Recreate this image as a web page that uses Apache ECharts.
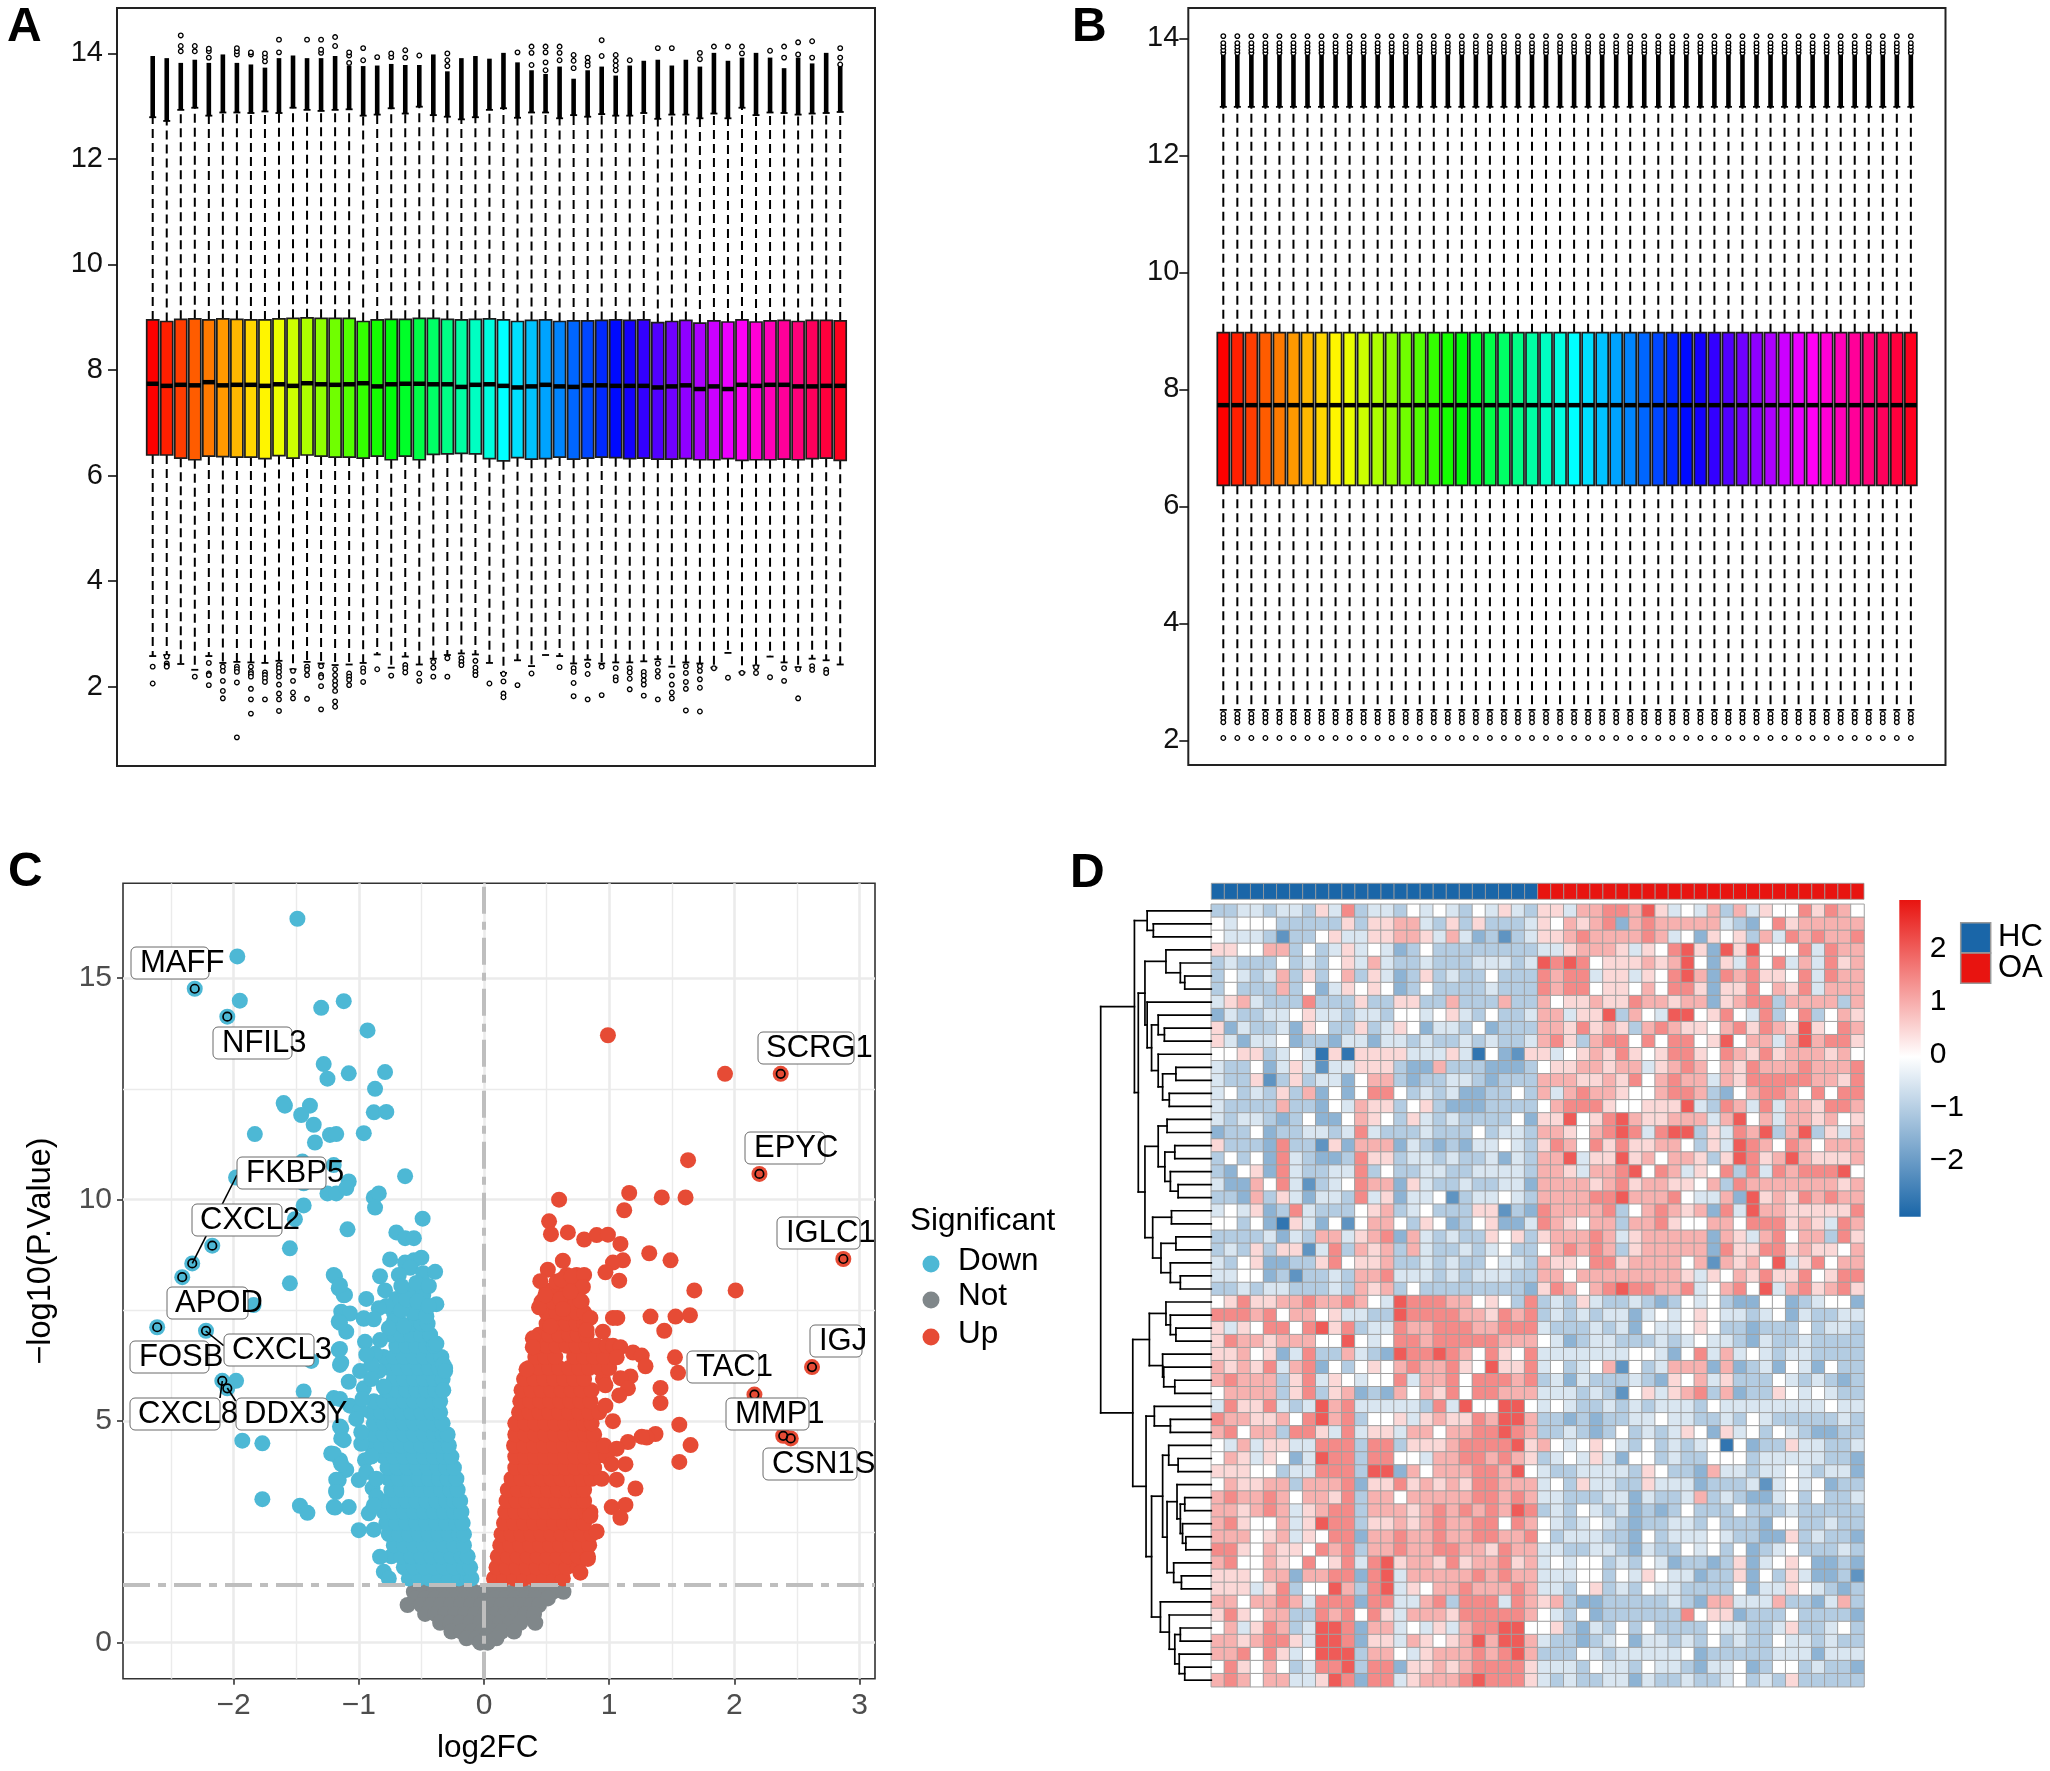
<!DOCTYPE html>
<html>
<head>
<meta charset="utf-8">
<title>Expression QC, volcano and heatmap</title>
<script src="https://cdn.jsdelivr.net/npm/echarts@6/dist/echarts.min.js"></script>
<style>
html, body { margin: 0; padding: 0; background: #fff; }
#chart { width: 2050px; height: 1771px; }
</style>
</head>
<body>
<div id="chart"></div>
<script>
// Panel A, one entry per sample
var boxAQ1 = [6.39,6.39,6.33,6.30,6.37,6.36,6.35,6.35,6.32,6.38,6.33,6.39,6.37,6.35,6.35,6.33,6.37,6.30,6.37,6.30,6.40,6.41,6.42,6.41,6.32,
    6.28,6.34,6.31,6.32,6.35,6.31,6.33,6.35,6.34,6.32,6.33,6.31,6.31,6.32,6.30,6.30,6.32,6.29,6.30,6.30,6.31,6.30,6.32,6.33,6.29];
var boxAMed = [7.74,7.70,7.72,7.71,7.77,7.71,7.72,7.72,7.70,7.73,7.70,7.75,7.73,7.72,7.73,7.75,7.69,7.73,7.74,7.74,7.73,7.73,7.68,7.72,7.73,
    7.70,7.67,7.69,7.72,7.69,7.68,7.71,7.71,7.70,7.70,7.70,7.67,7.69,7.71,7.64,7.69,7.64,7.72,7.70,7.72,7.72,7.69,7.69,7.70,7.70];
var boxAQ3 = [8.95,8.92,8.96,8.97,8.95,8.97,8.96,8.95,8.95,8.97,8.98,8.99,8.98,8.98,8.98,8.92,8.95,8.96,8.96,8.98,8.98,8.96,8.95,8.96,8.97,
    8.95,8.92,8.94,8.95,8.92,8.93,8.93,8.94,8.95,8.94,8.95,8.90,8.92,8.94,8.89,8.93,8.91,8.95,8.91,8.93,8.94,8.92,8.94,8.94,8.93];
var boxALow = [2.58,2.60,2.43,2.32,2.58,2.45,2.47,2.46,2.45,2.49,2.33,2.47,2.44,2.41,2.42,2.45,2.61,2.36,2.57,2.42,2.53,2.60,2.63,2.61,2.45,
    2.26,2.50,2.39,2.60,2.58,2.44,2.51,2.44,2.46,2.46,2.48,2.52,2.38,2.46,2.44,2.36,2.64,2.27,2.40,2.57,2.46,2.37,2.53,2.50,2.42];
var boxAHigh = [12.79,12.72,12.93,12.97,12.82,12.88,12.88,12.87,12.90,12.87,12.97,12.93,12.91,12.93,12.94,12.82,12.84,12.96,12.86,12.99,12.83,12.80,12.75,12.79,12.93,
    12.96,12.78,12.88,12.88,12.77,12.83,12.80,12.85,12.82,12.82,12.87,12.76,12.84,12.84,12.77,12.86,12.77,12.97,12.83,12.88,12.87,12.84,12.86,12.87,12.89];
// top of the solid run of overlapping outliers above each whisker
var boxADenseTop = [13.95,13.91,13.82,13.88,13.82,13.98,13.82,13.79,13.73,13.91,13.96,13.91,13.91,13.95,13.77,13.76,13.77,13.80,13.78,13.78,13.98,13.66,13.91,13.95,13.90,
    14.01,13.83,13.68,13.61,13.75,13.52,13.68,13.75,13.58,13.77,13.86,13.88,13.77,13.88,13.75,14.01,13.86,13.92,14.01,13.92,13.72,13.92,13.81,14.01,13.81];
var boxATopOut = [[],[],[14.04,14.14,14.34],[14.04,14.14],[13.92,14.04,14.09],[],[13.98,14.04,14.10],[13.98,14.02],[13.85,13.93,14.00],[14.02,14.26],
    [],[14.26],[14.01,14.07,14.26],[14.14,14.31],[13.82,13.96,14.02],[13.87,14.10],[13.93],[13.93,14.00],[13.92,14.06],[13.96],
    [],[14.00,13.87,13.76],[],[],[],
    [],[14.02],[14.13,14.01,13.78],[14.13,14.02,13.83,13.68],[14.13,14.01,13.87],[13.97,13.86,13.72],[13.92,13.83,13.77],[14.25,13.95],[13.97,13.86,13.77,13.68],[13.87],
    [],[14.10],[14.10],[],[14.01,13.89],[14.13],[14.13],[14.13,14.00],[],[14.05],[14.13,13.92],[14.21,13.98],[14.23,13.92],[],[14.10,13.92,13.79]];
var boxALowOut = [[2.38,2.06],[2.57,2.44,2.40,2.38],[],[2.19],[2.45,2.25,2.22,2.03],[2.38,2.30,2.11,1.92,1.78],[2.38,2.33,2.28,2.08,1.04],[2.38,2.28,2.24,2.19,1.96,1.76,1.49],[2.27,2.22,2.16,2.09,1.76],[2.41,2.35,2.28,2.19,2.04,1.87,1.76,1.54],
    [2.30,2.11,1.89,1.78],[2.38,2.32,2.22,1.77],[2.39,2.22,2.18,2.01,1.57],[2.33,2.22,2.11,2.03,1.92,1.72,1.62],[2.25,2.19,2.13,2.03],[2.35,2.28,2.09],[2.33],[2.21],[2.41,2.35,2.27],[2.25,2.11],
    [2.47,2.36,2.19],[2.54,2.19],[2.54,2.47,2.41],[2.49,2.36,2.28,2.22],[2.06],
    [2.24,2.10,1.87,1.80],[2.03],[2.25],[],[2.37],[2.35,2.28,2.07,1.82],[2.41,2.24,1.76],[2.38,1.84],[2.35,2.18,2.12],[2.35,2.27,2.15,1.95],
    [2.28,2.21,2.12,2.04,1.83],[2.44,2.30,2.19,1.76],[2.21,2.04,1.89,1.78],[2.39,2.26,2.09,1.96,1.55],[2.39,2.30,2.14,1.98,1.53],[2.35],[2.17],[2.26],[2.37,2.26],[2.18],[2.35,2.11],[2.33,1.78],[2.39,2.32],[2.32,2.26],[]];

// Panel B is quantile normalised, every sample has the same summary
var boxBSummary = { low: 2.52, q1: 6.36, med: 7.73, q3: 8.97, high: 12.83, denseTop: 13.72 };
var boxBTopOut = [13.75, 13.80, 13.86, 13.92, 14.04];
var boxBLowOut = [2.45, 2.38, 2.31, 2.04];

var axisTicksAB = [2, 4, 6, 8, 10, 12, 14];

// Panel C, hand read from the volcano. Dense rows: [y, x, x, ...]
var downDense = [
    [1.45,-.6,-.52,-.44,-.36,-.28,-.2,-.13,-.1],
    [1.7,-.64,-.56,-.48,-.4,-.32,-.24,-.16,-.11],
    [1.95,-.74,-.66,-.58,-.5,-.42,-.34,-.26,-.18,-.13],
    [2.2,-.72,-.64,-.56,-.48,-.4,-.32,-.24,-.16],
    [2.45,-.76,-.68,-.6,-.52,-.44,-.36,-.28,-.2,-.16],
    [2.7,-.78,-.7,-.62,-.54,-.46,-.38,-.3,-.22,-.17],
    [2.95,-.8,-.72,-.64,-.56,-.48,-.4,-.32,-.24,-.18],
    [3.2,-.78,-.7,-.62,-.54,-.46,-.38,-.3,-.24,-.19],
    [3.45,-.74,-.66,-.58,-.5,-.42,-.34,-.27,-.21],
    [3.7,-.76,-.68,-.6,-.52,-.44,-.36,-.29,-.22],
    [3.95,-.77,-.69,-.61,-.53,-.45,-.37,-.3,-.24],
    [4.2,-.8,-.72,-.64,-.56,-.48,-.4,-.32,-.26],
    [4.45,-.9,-.82,-.74,-.66,-.58,-.5,-.42,-.34,-.28],
    [4.7,-.88,-.8,-.72,-.64,-.56,-.48,-.4,-.33,-.29],
    [4.95,-.88,-.8,-.72,-.64,-.56,-.48,-.4,-.33],
    [5.2,-.9,-.82,-.74,-.66,-.58,-.5,-.42,-.35],
    [5.45,-.88,-.8,-.72,-.64,-.56,-.48,-.4,-.35],
    [5.7,-.78,-.7,-.62,-.54,-.46,-.39,-.33],
    [5.95,-.72,-.64,-.56,-.48,-.4,-.33],
    [6.2,-.76,-.68,-.6,-.52,-.44,-.36,-.31],
    [6.45,-.8,-.72,-.64,-.56,-.48,-.4,-.34],
    [6.7,-.7,-.62,-.54,-.46,-.4],
    [6.95,-.74,-.66,-.58,-.5,-.43],
    [7.2,-.66,-.58,-.5,-.45],
    [7.45,-.72,-.56,-.47]
];
var downPoints = [[-2.31,14.76],[-2.05,14.13],[-2.17,8.96],[-2.33,8.56],[-2.41,8.25],[-2.61,7.12],[-2.22,7.04],[-2.09,5.91],[-2.05,5.74],
    [-1.49,16.34],[-1.97,15.49],[-1.95,14.49],[-1.30,14.33],[-1.12,14.48],[-.93,13.82],[-1.28,13.06],[-1.25,12.73],[-1.08,12.85],[-.79,12.88],[-.87,12.5],
    [-1.60,12.18],[-1.59,12.12],[-1.39,12.12],[-1.46,11.91],[-1.36,11.69],[-.88,11.97],[-.78,11.98],[-1.23,11.46],[-1.18,11.48],[-.96,11.5],[-1.83,11.48],[-1.35,11.29],
    [-1.45,10.86],[-1.2,10.78],[-1.98,10.5],[-1.44,10.37],[-1.08,10.41],[-1.25,10.14],[-1.18,10.14],[-1.10,10.26],[-.63,10.53],[-.88,10.05],[-.84,10.14],[-.87,9.82],
    [-1.44,9.87],[-1.51,9.56],[-.49,9.57],[-1.09,9.33],[-1.55,8.9],[-.70,9.26],[-.63,9.13],[-.56,9.13],[-1.55,8.11],[-1.2,8.3],[-1.16,8.0],[-1.11,7.85],[-1.84,7.62],
    [-1.14,7.47],[-1.07,7.43],[-1.16,7.25],[-.96,7.32],[-1.1,7.02],
    [-.75,8.65],[-.63,8.58],[-.56,8.63],[-.50,8.69],[-.59,8.46],[-.68,8.30],[-.485,8.34],[-.39,8.37],[-.83,8.27],[-.79,7.95],[-.59,7.95],[-.485,7.85],[-.94,7.76],[-.70,7.76],
    [-.38,7.64],[-.78,7.60],[-.565,7.45],[-.46,7.37],[-.96,7.31],[-.72,7.25],[-.76,7.10],[-.64,7.14],[-.95,6.79],[-.83,6.83],[-.38,6.75],[-.87,6.52],[-.325,6.28],
    [-1.38,6.36],[-1.16,6.61],[-1.15,6.27],[-1.98,5.91],[-1.44,5.67],[-1.2,5.52],[-.99,6.13],[-.84,6.13],[-.31,6.13],[-1.08,5.89],[-.80,5.78],[-.96,5.74],[-.325,5.70],
    [-1.07,5.35],[-.99,5.23],[-1.15,4.88],[-1.14,4.61],[-1.93,4.56],[-1.77,4.50],[-.98,4.49],[-1.22,4.27],[-1.15,4.12],[-.95,4.12],[-1.10,3.9],[-1.16,3.67],[-1.0,3.67],
    [-.89,3.49],[-1.18,3.43],[-1.77,3.24],[-1.47,3.09],[-1.41,2.93],[-1.2,3.06],[-1.08,3.06],[-.92,2.92],[-1.0,2.54],[-.88,2.55],[-.83,1.94],[-.8,1.6],[-.76,1.45],
    [-1.15,7.22],[-1.12,7.84],[-1.19,8.27],[-1.15,8.07],[-1.14,6.32],[-1.15,6.63],[-1.15,5.5],[-1.2,4.26],[-1.14,4.03],[-1.18,3.68],[-1.18,3.4],[-1.19,3.05],[-1.14,4.84],[-1.12,4.57],
    [-.9,6.28],[-.94,6.5],[-.9,5.95],[-.97,5.5],[-1.02,5.05],[-.98,4.75],[-.9,4.2],[-.94,3.85],[-.86,3.7],[-.86,3.3],[-.88,3.1],[-.84,7.55],[-.88,7.3],[-.66,7.5],[-.62,7.75],[-.53,7.7],[-.44,7.6],[-.66,8.05],[-.54,8.12],[-.44,8.05]];

var upDense = [
    [1.45,.08,.16,.24,.32,.4,.48,.56,.63],
    [1.7,.1,.18,.26,.34,.42,.5,.58,.66,.75],
    [1.95,.11,.19,.27,.35,.43,.51,.59,.67,.75,.83],
    [2.2,.13,.21,.29,.37,.45,.53,.61,.69,.77,.84],
    [2.45,.14,.22,.3,.38,.46,.54,.62,.7,.78,.86],
    [2.7,.16,.24,.32,.4,.48,.56,.64,.72,.8],
    [2.95,.17,.25,.33,.41,.49,.57,.65,.73,.81,.85],
    [3.2,.18,.26,.34,.42,.5,.58,.66,.74,.8],
    [3.45,.19,.27,.35,.43,.51,.59,.67,.74,.8],
    [3.7,.22,.3,.38,.46,.54,.62,.7,.78,.86,.94],
    [3.95,.25,.33,.41,.49,.57,.65,.73,.81,.88],
    [4.2,.25,.33,.41,.49,.57,.65,.73,.81,.9,.98],
    [4.45,.24,.32,.4,.48,.56,.64,.72,.8,.88,.96],
    [4.7,.25,.33,.41,.49,.57,.65,.73,.81,.88],
    [4.95,.25,.33,.41,.49,.57,.65,.73,.8,.86],
    [5.2,.28,.36,.44,.52,.6,.68,.76,.84,.92],
    [5.45,.29,.37,.45,.53,.61,.69,.77,.85],
    [5.7,.3,.38,.46,.54,.62,.7,.78,.86],
    [5.95,.32,.4,.48,.56,.64,.72,.8,.95],
    [6.2,.36,.44,.52,.6,.68,.76,.84,.92,1.0],
    [6.45,.41,.49,.57,.72,.8,.88,.96],
    [6.7,.42,.5,.58,.66,.74,.82,.9,.98,1.03],
    [6.95,.44,.52,.6,.68,.75,.82],
    [7.2,.5,.58,.66,.74,.8],
    [7.45,.5,.58,.66,.74,.8],
    [7.7,.46,.55,.63,.72,.78],
    [7.95,.5,.58,.66,.74],
    [8.15,.58,.66,.74],
    [8.3,.66,.74]
];
var upPoints = [[2.37,12.84],[2.20,10.58],[2.87,8.66],[2.62,6.22],[2.16,5.60],[2.39,4.67],[2.45,4.61],
    [.99,13.71],[1.925,12.84],[1.63,10.89],[1.16,10.15],[1.42,10.05],[1.61,10.05],[.60,10.0],[1.12,9.76],[.52,9.51],[.535,9.22],[.67,9.26],[.80,9.1],[.90,9.2],[.99,9.21],[1.09,9.0],
    [1.32,8.79],[1.49,8.63],[.63,8.62],[1.11,8.63],[1.03,8.58],[.97,8.36],[1.08,8.17],[.51,8.42],[.45,8.16],[.62,8.19],[.70,8.27],[.80,8.3],[.79,8.03],[1.68,7.95],[2.01,7.95],
    [.44,7.57],[.49,7.84],[.61,7.76],[.77,7.72],[.69,7.92],[.63,7.53],[.85,7.33],[1.03,7.33],[1.065,7.33],[1.33,7.36],[1.53,7.36],[1.645,7.39],[1.44,7.04],[.95,7.02],[.53,7.14],
    [.82,7.06],[.39,6.87],[.39,6.67],[1.09,6.67],[1.19,6.55],[1.26,6.48],[1.29,6.24],[1.06,6.44],[1.525,6.44],[1.55,6.09],[.34,6.17],[1.17,6.01],[1.09,5.97],[1.15,5.74],[1.08,5.58],
    [.97,5.81],[1.41,5.75],[1.41,5.41],[1.03,5.0],[.97,5.35],[1.56,4.92],[1.65,4.46],[1.56,4.08],[1.37,4.71],[1.30,4.63],[1.26,4.65],[1.15,4.53],[1.06,4.38],[1.13,4.03],[1.02,4.03],
    [1.06,3.68],[1.21,3.48],[1.02,3.06],[1.13,3.11],[1.09,2.82],[.90,2.51],[.83,1.89],[.77,1.58],[.85,2.86]];

var notDense = [
    [1.15,-.56,-.48,-.4,-.32,-.24,-.16,-.08,0,.08,.16,.24,.32,.4,.48,.55,.635],
    [1.0,-.55,-.47,-.39,-.31,-.23,-.15,-.07,.01,.09,.17,.25,.33,.41,.51],
    [.85,-.61,-.5,-.42,-.34,-.26,-.18,-.1,-.02,.06,.14,.22,.3,.38,.44],
    [.65,-.47,-.39,-.31,-.23,-.15,-.07,.01,.09,.17,.25,.33,.4],
    [.45,-.35,-.27,-.19,-.11,-.03,.05,.13,.21,.29,.41],
    [.25,-.26,-.18,-.1,-.02,.06,.14,.24],
    [.1,-.14,-.06,.02,.1],
    [0,-.03,.03]
];

var geneNames = ['MAFF','NFIL3','FKBP5','CXCL2','APOD','FOSB','CXCL3','CXCL8','DDX3Y','SCRG1','EPYC','IGLC1','IGJ','TAC1','MMP1','CSN1S'];
var geneFC = [-2.31,-2.05,-2.33,-2.17,-2.41,-2.61,-2.22,-2.09,-2.05,2.37,2.20,2.87,2.62,2.16,2.39,2.45];
var geneP = [14.76,14.13,8.56,8.96,8.25,7.12,7.04,5.91,5.74,12.84,10.58,8.66,6.22,5.60,4.67,4.61];

var volcanoXTicks = [-2, -1, 0, 1, 2, 3];
var volcanoYTicks = [0, 5, 10, 15];
var volcanoXMinor = [-2.5, -1.5, -0.5, 0.5, 1.5, 2.5];
var volcanoYMinor = [2.5, 7.5, 12.5];
var pCutoff = 1.3;
var significantNames = ['Down', 'Not', 'Up'];

// Panel D, one digit per cell, digit indexes heatLevels
var heatLevels = [-2.7, -2.1, -1.5, -1.0, -0.5, 0, 0.5, 1, 1.5, 2.1];
var heatRows = [
    '33443 44364 83443 54543 54643 66477 88796 45473 74655 86875',
    '54555 33333 63667 74363 63334 65767 82787 77774 32586 77777',
    '54443 13356 44667 76474 23134 66787 77787 45265 63748 78778',
    '66557 73534 64542 35333 33333 44677 76465 89629 69555 84877',
    '34333 53435 64743 34333 44434 98985 66676 79526 48584 74867',
    '35434 73635 73642 36343 35333 87884 66465 89728 78665 84877',
    '35333 73524 65652 35333 34333 87885 66575 88626 68576 84777',
    '46743 33833 36336 63373 33733 75667 66877 67726 78837 77737',
    '24334 45644 34435 54564 35334 77466 93754 99568 54835 83576',
    '62433 42653 36346 52443 52333 77686 76378 76657 86876 96587',
    '64244 52332 44244 34334 34334 78637 88585 88569 57747 97886',
    '55663 45406 06666 44464 05216 64567 68656 88658 76867 77675',
    '43352 46414 46663 22733 32223 56677 67746 78757 68777 87778',
    '43361 36344 25773 23344 32333 77766 76857 87747 68888 87768',
    '45343 63725 25885 34342 23353 74787 76557 88732 57887 58588',
    '43333 73325 47663 56322 23333 57888 65566 69438 74847 76887',
    '43443 23522 57653 64343 33352 66956 89766 77747 95747 76756',
    '23352 33443 48433 34333 53443 77657 89848 99364 87937 93647',
    '63332 83316 27772 43232 44543 68758 68667 75364 98758 75777',
    '35352 84322 38663 44343 34243 77946 69675 77636 98679 76667',
    '32562 84334 48353 34433 44443 77647 78958 74658 38487 88895',
    '42275 84134 58772 64334 33442 77776 78677 66573 87777 77767',
    '33273 64244 38462 44513 44543 77778 89777 85447 29676 87877',
    '45462 38433 35673 45333 66132 87777 83578 76728 49776 66668',
    '55352 06425 15775 36523 56224 87657 73778 65577 58886 76487',
    '33334 24377 46782 74343 36563 67778 74677 77727 64785 77386',
    '34363 66148 37673 74334 34533 57878 73677 77728 66886 76657',
    '43562 23368 56673 34343 35443 76658 86777 75717 67594 68577',
    '44552 31334 37784 44343 44433 77577 77777 76465 76866 85688',
    '33434 43334 37673 53333 33332 68757 89887 78457 85947 86786',
    '56866 77877 87549 88877 56538 34364 33432 35453 22552 34552',
    '88878 57756 44339 88887 76878 34343 44245 45654 43452 43344',
    '64658 85896 83448 77888 77888 43334 34254 45653 32333 53443',
    '68776 77755 95458 87888 88777 54234 43334 34544 32433 43333',
    '66756 24833 74329 88987 58658 44444 44554 25847 45434 43333',
    '76768 47825 35657 87786 59668 45345 71534 77727 23425 42533',
    '78777 36846 54558 47785 88878 34243 33432 65746 33354 34323',
    '57777 36836 72327 57685 88777 44434 31564 67837 23365 45433',
    '48668 43497 84444 43849 55995 45433 43434 44354 44444 44544',
    '87766 75897 83556 46766 87997 33232 33445 44334 35433 33343',
    '78577 38864 84664 77577 88987 33432 35343 46526 45354 32233',
    '54746 64488 83883 66678 88896 75456 54353 43450 52336 44334',
    '57646 52498 83885 54778 87876 34546 42553 43355 53444 44332',
    '66655 34488 83992 75777 88795 43344 44365 33274 43445 43442',
    '57667 73777 82668 67676 88777 45364 43364 44233 34145 45233',
    '78778 75776 83775 77777 88787 44333 44243 34734 32245 35334',
    '77678 74678 83777 67878 78798 34354 34232 35333 53334 33333',
    '78655 74698 83667 67877 88587 54345 43233 44353 33255 33433',
    '77756 74658 82778 77877 88778 53444 33253 44454 33226 34332',
    '88657 66587 83778 77887 76877 44334 43243 35453 52345 33343',
    '78557 65856 84896 77686 77867 45455 34354 23323 62456 52232',
    '66657 72778 82894 77777 87877 44455 35465 44233 62536 42231',
    '66646 83559 73894 65778 77787 44356 34354 43333 52446 54323',
    '77577 87488 82884 47838 88487 67322 33333 43277 44473 32473',
    '68657 73387 85864 77768 88887 54352 33333 38566 23335 33332',
    '57468 73499 82774 54647 88995 56324 35353 33354 43346 33453',
    '77678 86499 82664 76567 97997 43323 45244 34353 43354 43433',
    '77858 64599 93775 46777 87897 33354 34444 45233 33344 42444',
    '58657 53488 93882 66767 88886 44435 44354 43244 52355 34332',
    '78757 74469 82884 67778 98886 43433 44243 34334 53436 33333'
];
var groupNames = ['HC', 'OA'];
var groupSizes = [25, 25];
var heatTicks = [-2, -1, 0, 1, 2];

// row dendrogram, node = [height, left, right], leaf = row number
var treeTop = [69.5,
    [58, 0, [52.4, 1, 2]],
    [66,
        [60,
            [41, 3, [28, 4, [24, 5, 6]]],
            [58, 7, [54,
                [48, 8, [42.4, 9, 10]],
                [48, 11, [44, [32, 12, 13], [38, 14, 15]]]
            ]]
        ],
        [60,
            [48, [40, 16, 17], [42, [33, 18, 19], [37, 20, [30, 21, 22]]]],
            [53, [36, 23, 24], [45.5, [32, 25, 26], [37, 27, [28, 28, 29]]]]
        ]
    ]
];
var treeBottom = [71,
    [56,
        [41, 30, [37, 31, [32, 32, 33]]],
        [44, 34, [43, 35, [33, 36, 37]]]
    ],
    [59,
        [51.5, 38, [37, 39, 40]],
        [54,
            [44,
                [38.5, 41, [30, 42, 43]],
                [40,
                    [31, 44, [28, [24, 45, 46], [26, 47, [23, 48, 49]]]],
                    [34, 50, [27, 51, 52]]
                ]
            ],
            [46, 53, [38, 54, [33, [28, 55, 56], [29, 57, [24, 58, 59]]]]]
        ]
    ]
];
var treeRoot = [100, treeTop, treeBottom];

var FONT = '"Liberation Sans", Arial, sans-serif';
var BLUE = '#4DB8D5', GREY = '#80878A', RED = '#E64B35';
var HC_COLOR = '#1A66A8', OA_COLOR = '#E81410';

function rainbow(i, n) {
    var h = i / n * 6, f = h - Math.floor(h), c = Math.floor(h) % 6;
    var v = [[1, f, 0], [1 - f, 1, 0], [0, 1, f], [0, 1 - f, 1], [f, 0, 1], [1, 0, 1 - f]][c];
    return 'rgb(' + v.map(function (x) { return Math.round(x * 255); }).join(',') + ')';
}

function minus(v) { return String(v).replace('-', '\u2212'); }

function expandRows(rows) {
    var out = [];
    rows.forEach(function (r) {
        for (var i = 1; i < r.length; i++) out.push([r[i], r[0]]);
    });
    return out;
}

function renderBox(params, api) {
    var i = api.value(0);
    var low = api.coord([i, api.value(1)]), q1 = api.coord([i, api.value(2)]), med = api.coord([i, api.value(3)]);
    var q3 = api.coord([i, api.value(4)]), high = api.coord([i, api.value(5)]), dense = api.coord([i, api.value(6)]);
    var x = low[0];
    var dash = { stroke: '#000', lineWidth: 2, lineDash: [9, 5] };
    var solid = { stroke: '#000', lineWidth: 1.8 };
    return {
        type: 'group',
        children: [
            { type: 'line', shape: { x1: x, y1: q3[1], x2: x, y2: high[1] }, style: dash },
            { type: 'line', shape: { x1: x, y1: q1[1], x2: x, y2: low[1] }, style: dash },
            { type: 'line', shape: { x1: x - 3.5, y1: high[1], x2: x + 3.5, y2: high[1] }, style: solid },
            { type: 'line', shape: { x1: x - 3.5, y1: low[1], x2: x + 3.5, y2: low[1] }, style: solid },
            { type: 'line', shape: { x1: x, y1: high[1], x2: x, y2: dense[1] }, style: { stroke: '#000', lineWidth: 4.6 } },
            { type: 'rect', shape: { x: x - 6, y: q3[1], width: 12, height: q1[1] - q3[1] },
                style: { fill: rainbow(i, 50), stroke: '#1c1c1c', lineWidth: 1.7 } },
            { type: 'line', shape: { x1: x - 6, y1: med[1], x2: x + 6, y2: med[1] }, style: { stroke: '#000', lineWidth: 4.5 } }
        ]
    };
}

function renderDendro(params, api) {
    var a = api.coord([api.value(0), api.value(1)]), b = api.coord([api.value(2), api.value(3)]);
    return { type: 'line', shape: { x1: a[0], y1: a[1], x2: b[0], y2: b[1] },
        style: { stroke: '#000', lineWidth: 1.7, lineCap: 'square' } };
}

function renderAnnotation(params, api) {
    var p = api.coord([api.value(0), 0]), s = api.size([1, 1]);
    return { type: 'rect', shape: { x: p[0] - s[0] / 2, y: p[1] - s[1] / 2, width: s[0], height: s[1] },
        style: { fill: api.value(1) === 0 ? HC_COLOR : OA_COLOR, stroke: '#9a9a9a', lineWidth: 0.8 } };
}

function renderColorbar(params, api) {
    var t = api.coord([0, api.value(1)]), b = api.coord([1, api.value(0)]);
    return { type: 'rect', shape: { x: t[0], y: t[1], width: b[0] - t[0], height: b[1] - t[1] },
        style: { fill: new echarts.graphic.LinearGradient(0, 0, 0, 1, [
            { offset: 0, color: OA_COLOR }, { offset: 0.495, color: '#ffffff' }, { offset: 1, color: HC_COLOR }
        ]) } };
}

var boxDataA = [], outA = [], boxDataB = [], outB = [];
boxAQ1.forEach(function (q, i) {
    boxDataA.push([i, boxALow[i], q, boxAMed[i], boxAQ3[i], boxAHigh[i], boxADenseTop[i]]);
    boxATopOut[i].concat(boxALowOut[i]).forEach(function (v) { outA.push([i, v]); });
    var s = boxBSummary;
    boxDataB.push([i, s.low, s.q1, s.med, s.q3, s.high, s.denseTop]);
    boxBTopOut.concat(boxBLowOut).forEach(function (v) { outB.push([i, v]); });
});

var heatData = [], sampleCats = [], rowCats = [], groupData = [];
heatRows.forEach(function (row, r) {
    rowCats.push('r' + r);
    row.replace(/ /g, '').split('').forEach(function (d, c) { heatData.push([c, r, heatLevels[+d]]); });
});
groupSizes.forEach(function (n, g) {
    for (var k = 0; k < n; k++) { groupData.push([sampleCats.length, g]); sampleCats.push('s' + sampleCats.length); }
});

var treeSegments = [];
function walkTree(node) {
    if (typeof node === 'number') return { h: 0, y: node + 0.5 };
    var a = walkTree(node[1]), b = walkTree(node[2]);
    treeSegments.push([node[0], a.y, a.h, a.y], [node[0], b.y, b.h, b.y], [node[0], a.y, node[0], b.y]);
    return { h: node[0], y: (a.y + b.y) / 2 };
}
walkTree(treeRoot);

var geneRing = geneNames.map(function (n, i) { return { name: n, value: [geneFC[i], geneP[i]] }; });

function hidden(o) {
    return Object.assign({ show: false }, o);
}
function boxYAxis(grid, min, max, margin, padding) {
    return {
        type: 'value', gridIndex: grid, min: min, max: max,
        axisLine: { show: false, onZero: false }, splitLine: { show: false },
        axisTick: { length: 9, lineStyle: { color: '#111', width: 1.6 }, customValues: axisTicksAB },
        axisLabel: { fontFamily: FONT, fontSize: 29, color: '#111', margin: margin, padding: padding, customValues: axisTicksAB }
    };
}
function outlierSeries(x, y, data) {
    return { type: 'scatter', xAxisIndex: x, yAxisIndex: y, data: data, symbolSize: 4.6, silent: true, z: 3,
        itemStyle: { color: '#fff', borderColor: '#000', borderWidth: 1.3, opacity: 1 } };
}
function gridLines(values, axisKey, width) {
    return values.map(function (v) {
        var d = { lineStyle: { color: '#EBEBEB', width: width, type: 'solid' } };
        d[axisKey] = v;
        return d;
    });
}

// label boxes sit where ggrepel put them, so they are page pixels, not data
var labelBoxes = [
    { t: 'MAFF', x: 131, y: 947, w: 78, h: 32, tx: 140 },
    { t: 'NFIL3', x: 213, y: 1027, w: 79, h: 32, tx: 222 },
    { t: 'FKBP5', x: 237, y: 1157, w: 89, h: 32, tx: 246 },
    { t: 'CXCL2', x: 192, y: 1204, w: 90, h: 32, tx: 200 },
    { t: 'APOD', x: 167, y: 1287, w: 81, h: 32, tx: 175 },
    { t: 'FOSB', x: 130, y: 1341, w: 79, h: 32, tx: 139 },
    { t: 'CXCL3', x: 224, y: 1334, w: 90, h: 32, tx: 232 },
    { t: 'CXCL8', x: 130, y: 1398, w: 90, h: 32, tx: 138 },
    { t: 'DDX3Y', x: 236, y: 1398, w: 92, h: 32, tx: 244 },
    { t: 'SCRG1', x: 758, y: 1032, w: 96, h: 32, tx: 766 },
    { t: 'EPYC', x: 745, y: 1132, w: 80, h: 32, tx: 754 },
    { t: 'IGLC1', x: 777, y: 1217, w: 83, h: 32, tx: 786 },
    { t: 'IGJ', x: 810, y: 1325, w: 52, h: 32, tx: 819 },
    { t: 'TAC1', x: 687, y: 1351, w: 72, h: 32, tx: 696 },
    { t: 'MMP1', x: 726, y: 1398, w: 83, h: 32, tx: 735 },
    { t: 'CSN1S', x: 763, y: 1448, w: 94, h: 32, tx: 772 }
];
var connectors = [[237, 1175, 192.3, 1263.3], [205.7, 1331, 223.7, 1345.7], [222.3, 1381, 220, 1398], [227.3, 1388, 235.7, 1401]];

function txt(text, x, y, size, extra) {
    return Object.assign({
        type: 'text', x: x, y: y, z: 100, silent: true,
        style: { text: text, font: size + 'px ' + FONT, fill: '#000', align: 'left', verticalAlign: 'middle',
            textAlign: 'left', textVerticalAlign: 'middle' }
    }, extra || {});
}

var elements = [];
connectors.forEach(function (c) {
    elements.push({ type: 'line', z: 95, silent: true, shape: { x1: c[0], y1: c[1], x2: c[2], y2: c[3] }, style: { stroke: '#000', lineWidth: 1.6 } });
});
labelBoxes.forEach(function (b) {
    elements.push({ type: 'rect', z: 96, silent: true, shape: { x: b.x, y: b.y, width: b.w, height: b.h, r: 5 }, style: { fill: '#fff', stroke: '#6a6a6a', lineWidth: 1 } });
});
labelBoxes.forEach(function (b) {
    elements.push(txt(b.t, b.tx, b.y + 16.5, 31));
});
[['A', 7, 28], ['B', 1072, 28], ['C', 8, 873], ['D', 1070, 874]].forEach(function (p) {
    var t = txt(p[0], p[1], p[2], 48);
    t.style.font = 'bold 48px ' + FONT;
    elements.push(t);
});
elements.push(txt('log2FC', 437, 1748, 31.5));
elements.push(txt('\u2212log10(P.Value)', 41, 1251, 32.5, { rotation: Math.PI / 2 }));
elements[elements.length - 1].style.align = 'center';
elements[elements.length - 1].style.textAlign = 'center';
elements.push(txt('Significant', 910, 1221, 31.5));
[[1264, BLUE, 1261], [1300, GREY, 1296], [1337, RED, 1334]].forEach(function (l, i) {
    elements.push({ type: 'circle', z: 100, silent: true, shape: { cx: 931, cy: l[0], r: 8.5 }, style: { fill: l[1] } });
    elements.push(txt(significantNames[i], 958, l[2], 31.5));
});
elements.push({ type: 'rect', z: 100, silent: true, shape: { x: 1960.7, y: 922.7, width: 30, height: 30.3 }, style: { fill: HC_COLOR, stroke: '#999', lineWidth: 1.5 } });
elements.push({ type: 'rect', z: 100, silent: true, shape: { x: 1960.7, y: 953, width: 30, height: 30.3 }, style: { fill: OA_COLOR, stroke: '#999', lineWidth: 1.5 } });
elements.push(txt(groupNames[0], 1998, 937, 31));
elements.push(txt(groupNames[1], 1998, 968, 31));

var option = {
    animation: false,
    backgroundColor: '#fff',
    textStyle: { fontFamily: FONT },
    graphic: { elements: elements },
    grid: [
        { left: 117, top: 8, width: 758, height: 758, show: true, borderColor: '#222', borderWidth: 2, containLabel: false },
        { left: 1188.3, top: 8, width: 757.2, height: 757, show: true, borderColor: '#222', borderWidth: 2 },
        { left: 123, top: 883.3, width: 752, height: 795.4, show: true, borderColor: '#333', borderWidth: 1.6 },
        { left: 1211.3, top: 904.3, width: 652.7, height: 782.4 },
        { left: 1211.3, top: 883.3, width: 652.7, height: 16 },
        { left: 1100.7, top: 904.3, width: 110.6, height: 782.4 },
        { left: 1899.3, top: 900, width: 21.4, height: 316.7 }
    ],
    visualMap: { show: false, type: 'continuous', min: -3, max: 3, seriesIndex: 7, dimension: 2,
        inRange: { color: [HC_COLOR, '#ffffff', OA_COLOR] } },
    xAxis: [
        hidden({ type: 'value', gridIndex: 0, min: -2.545, max: 51.48 }),
        hidden({ type: 'value', gridIndex: 1, min: -2.495, max: 51.47 }),
        {
            type: 'value', gridIndex: 2, min: -2.883, max: 3.123,
            axisLine: { show: false, onZero: false }, splitLine: { show: false },
            axisTick: { length: 6, lineStyle: { color: '#333', width: 1.6 }, customValues: volcanoXTicks },
            axisLabel: { fontFamily: FONT, fontSize: 30, color: '#4D4D4D', margin: 12, formatter: minus, customValues: volcanoXTicks }
        },
        hidden({ type: 'category', gridIndex: 3, data: sampleCats }),
        hidden({ type: 'category', gridIndex: 4, data: sampleCats }),
        hidden({ type: 'value', gridIndex: 5, min: 0, max: 100, inverse: true }),
        hidden({ type: 'value', gridIndex: 6, min: 0, max: 1 })
    ],
    yAxis: [
        boxYAxis(0, 0.497, 14.86, 14, [2, 0, 0, 0]),
        boxYAxis(1, 1.578, 14.52, 9, [0, 0, 5, 0]),
        {
            type: 'value', gridIndex: 2, min: -0.813, max: 17.14,
            axisLine: { show: false, onZero: false }, splitLine: { show: false },
            axisTick: { length: 6, lineStyle: { color: '#333', width: 1.6 }, customValues: volcanoYTicks },
            axisLabel: { fontFamily: FONT, fontSize: 30, color: '#4D4D4D', margin: 11, padding: [0, 0, 3, 0], customValues: volcanoYTicks }
        },
        hidden({ type: 'category', gridIndex: 3, data: rowCats, inverse: true }),
        hidden({ type: 'category', gridIndex: 4, data: ['group'] }),
        hidden({ type: 'value', gridIndex: 5, min: 0, max: 60, inverse: true }),
        {
            type: 'value', gridIndex: 6, min: -3.06, max: 2.93, position: 'right',
            axisLine: { show: false, onZero: false }, axisTick: { show: false }, splitLine: { show: false },
            axisLabel: { fontFamily: FONT, fontSize: 30, color: '#000', margin: 9, align: 'left', formatter: minus, customValues: heatTicks }
        }
    ],
    series: [
        { type: 'custom', xAxisIndex: 0, yAxisIndex: 0, data: boxDataA, renderItem: renderBox, silent: true, z: 2 },
        outlierSeries(0, 0, outA),
        { type: 'custom', xAxisIndex: 1, yAxisIndex: 1, data: boxDataB, renderItem: renderBox, silent: true, z: 2 },
        outlierSeries(1, 1, outB),
        {
            name: significantNames[1], type: 'scatter', xAxisIndex: 2, yAxisIndex: 2, data: expandRows(notDense),
            symbolSize: 16, silent: true, z: 3, itemStyle: { color: GREY, opacity: 1 },
            markLine: {
                silent: true, symbol: 'none', z: 1, animation: false, label: { show: false },
                data: gridLines(volcanoXTicks, 'xAxis', 2.6).concat(gridLines(volcanoYTicks, 'yAxis', 2.6),
                    gridLines(volcanoXMinor, 'xAxis', 1.4), gridLines(volcanoYMinor, 'yAxis', 1.4))
            }
        },
        {
            name: significantNames[0], type: 'scatter', xAxisIndex: 2, yAxisIndex: 2, data: expandRows(downDense).concat(downPoints),
            symbolSize: 16, silent: true, z: 4, itemStyle: { color: BLUE, opacity: 1 }
        },
        {
            name: significantNames[2], type: 'scatter', xAxisIndex: 2, yAxisIndex: 2, data: expandRows(upDense).concat(upPoints),
            symbolSize: 16, silent: true, z: 4, itemStyle: { color: RED, opacity: 1 },
            markLine: {
                silent: true, symbol: 'none', z: 6, animation: false, label: { show: false },
                lineStyle: { color: '#BEBEBE', width: 4, type: [27, 8, 8, 8] },
                data: [{ xAxis: 0 }, { yAxis: pCutoff }]
            }
        },
        {
            type: 'heatmap', xAxisIndex: 3, yAxisIndex: 3, data: heatData, silent: true, z: 2,
            itemStyle: { borderColor: '#A0A0A0', borderWidth: 1 }
        },
        { type: 'custom', xAxisIndex: 4, yAxisIndex: 4, data: groupData, renderItem: renderAnnotation, silent: true },
        { type: 'custom', xAxisIndex: 5, yAxisIndex: 5, data: treeSegments, renderItem: renderDendro, silent: true },
        { type: 'custom', xAxisIndex: 6, yAxisIndex: 6, data: [[-3.06, 2.93]], renderItem: renderColorbar, silent: true },
        {
            type: 'scatter', xAxisIndex: 2, yAxisIndex: 2, data: geneRing, symbolSize: 8.5, silent: true, z: 5,
            itemStyle: { color: 'rgba(0,0,0,0)', borderColor: '#000', borderWidth: 1.7, opacity: 1 }
        }
    ]
};

var chart = echarts.init(document.getElementById('chart'));
chart.setOption(option);
</script>
</body>
</html>
